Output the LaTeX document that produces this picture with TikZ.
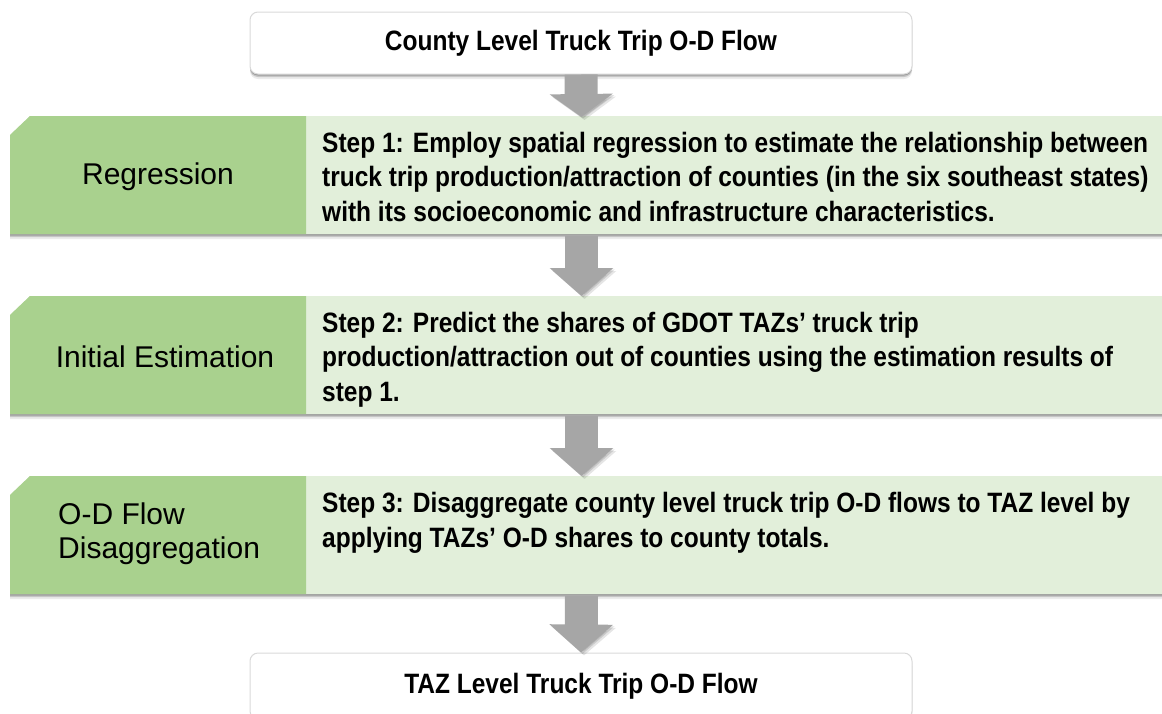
\documentclass[tikz,border=0pt]{standalone}
\usepackage{fontspec}
\setmainfont{Liberation Sans}
\newfontfamily\narrowfont{Liberation Sans}[FakeStretch=0.875]
\usetikzlibrary{arrows.meta,shadows}

\definecolor{stagegreen}{HTML}{A9D18E}
\definecolor{stepgreen}{HTML}{E2EFDA}
\definecolor{arrowgray}{HTML}{A6A6A6}
\definecolor{boxline}{HTML}{D9D9D9}

\tikzset{
  softshadow/.style={
    drop shadow={shadow xshift=0pt, shadow yshift=-1.5pt, opacity=.22, fill=black},
    drop shadow={shadow xshift=0pt, shadow yshift=-3pt, opacity=.16, fill=black},
    drop shadow={shadow xshift=0pt, shadow yshift=-5pt, opacity=.08, fill=black}},
  endbox/.style={rectangle, rounded corners=8pt, draw=boxline, line width=1pt, fill=white,
    minimum width=662pt, minimum height=62pt, inner sep=0pt, softshadow,
    font=\narrowfont\bfseries\fontsize{28}{32}\selectfont},
  steptext/.style={anchor=north west, align=left, inner sep=0pt,
    font=\narrowfont\bfseries\fontsize{28}{34.5}\selectfont},
  stagetext/.style={align=left, inner sep=0pt, font=\fontsize{30}{34}\selectfont},
  flowarrow/.style={draw=arrowgray, line width=33pt,
    -{Triangle[width=62pt,length=#1]},
    preaction={draw=black, opacity=.10, transform canvas={shift={(3pt,-3pt)}}},
    preaction={draw=black, opacity=.12, transform canvas={shift={(1.5pt,-1.5pt)}}}},
  flowarrow/.default=28pt,
}

\begin{document}
\begin{tikzpicture}[x=1pt,y=-1pt]
\useasboundingbox (0,0) rectangle (1162,713);

% three process bands: dark stage tab on the left, light step panel on the right
\foreach \t in {116,296,476}{
  \fill[softshadow, fill=stepgreen] (10,\t+19) -- (30,\t) -- (1175,\t) -- (1175,\t+118) -- (10,\t+118) -- cycle;
  \fill[stagegreen] (10,\t+19) -- (30,\t) -- (306,\t) -- (306,\t+118) -- (10,\t+118) -- cycle;
}
\coordinate (b1top) at (581.5,117);
\coordinate (b1bot) at (581.5,236);
\coordinate (b2top) at (581.5,296);
\coordinate (b2bot) at (581.5,416);
\coordinate (b3top) at (581.5,476);
\coordinate (b3bot) at (581.5,596);

% start and end boxes
\node[endbox] (start) at (581,43) {County Level Truck Trip O-D Flow};
\node[endbox, minimum height=66pt] (finish) at (581,686) {\raisebox{-4pt}{TAZ Level Truck Trip O-D Flow}};

% stage labels
\node[stagetext] (stage1) at (158,177) {Regression};
\node[stagetext] (stage2) at (165,357) {Initial Estimation};
\node[stagetext, anchor=west] (stage3) at (58,534) {O-D Flow\\Disaggregation};

% step descriptions
\node[steptext] (step1) at (322,132) {Step 1: Employ spatial regression to estimate the relationship between\\
truck trip production/attraction of counties (in the six southeast states)\\
with its socioeconomic and infrastructure characteristics.};
\node[steptext] (step2) at (322,312) {Step 2: Predict the shares of GDOT TAZs’ truck trip\\
production/attraction out of counties using the estimation results of\\
step 1.};
\node[steptext] (step3) at (322,492) {Step 3: Disaggregate county level truck trip O-D flows to TAZ level by\\
applying TAZs’ O-D shares to county totals.};

% flow arrows
\draw[flowarrow=23pt] (start.south) -- (b1top);
\draw[flowarrow] (b1bot) -- (b2top);
\draw[flowarrow] (b2bot) -- (b3top);
\draw[flowarrow] (b3bot) -- (finish.north);
\end{tikzpicture}
\end{document}
